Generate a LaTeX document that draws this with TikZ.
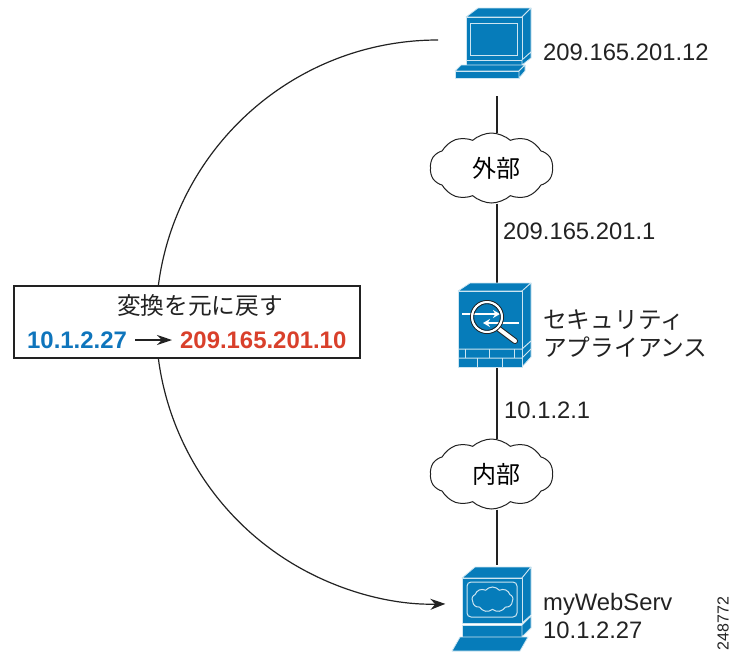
\documentclass[tikz,border=0pt]{standalone}
\usepackage{fontspec}
\setmainfont{Liberation Sans}
\newfontfamily\cjk{Noto Sans CJK JP}
\usetikzlibrary{arrows.meta,shapes.symbols}
\definecolor{ciscoblue}{HTML}{067CBA}
\definecolor{addrblue}{HTML}{0F75BC}
\definecolor{addrred}{HTML}{D9402B}
\definecolor{inkgray}{HTML}{222222}
\tikzset{
  wire/.style={draw=inkgray, line width=1.2pt},
  face/.style={fill=ciscoblue, draw=white!80!ciscoblue, line width=0.8pt, line join=round},
  hair/.style={draw=white!80!ciscoblue, line width=1pt},
  netcloud/.style={cloud, cloud puffs=10, cloud puff arc=85, aspect=1.8, draw=inkgray, fill=white,
    line width=1pt, inner sep=0pt, minimum width=123pt, minimum height=70pt, font=\cjk\fontsize{24}{24}\selectfont},
  label/.style={anchor=west, inner sep=0pt, text=inkgray, font=\fontsize{23.8}{24}\selectfont},
  jlabel/.style={anchor=west, inner sep=0pt, text=inkgray, font=\cjk\fontsize{23.7}{24}\selectfont},
  addr/.style={anchor=west, inner sep=0pt, font=\bfseries\fontsize{23.9}{24}\selectfont},
  spot/.style={inner sep=0pt, minimum width=76pt}
}
\begin{document}
\begin{tikzpicture}[x=1pt,y=-1pt]
  \useasboundingbox (0,0) rectangle (731,651);

  \coordinate (arctop) at (438,40);
  \draw [wire, -{Stealth[length=15pt,width=11pt]}] (arctop) arc [start angle=90, end angle=271.5, radius=282pt];

  \node (pchost) [spot, minimum height=88pt] at (497,52) {};
  \node (asa) [spot, minimum height=84pt] at (497,325) {};
  \node (webhost) [spot, minimum height=86pt] at (497,608) {};
  \node (outside) [netcloud] at (491.5,168) {\hspace*{9pt}外部};
  \node (inside) [netcloud] at (491.5,474) {\hspace*{9pt}内部};

  \draw [wire] (pchost) -- (pchost |- outside.north);
  \draw [wire] (pchost |- outside.south) -- (asa);
  \draw [wire] (asa) -- (asa |- inside.north);
  \draw [wire] (asa |- inside.south) -- (webhost);

  % pc
  \filldraw [face] (466,17) -- (478,8) -- (531,8) -- (522,17) -- cycle;
  \filldraw [face] (522,17) -- (531,8) -- (531,52) -- (522,60) -- cycle;
  \filldraw [face] (466,17) rectangle (522,60);
  \draw [hair] (470,23) rectangle (517,55);
  \filldraw [face] (466,60) rectangle (522,65);
  \filldraw [face] (522,60) -- (531,52) -- (531,58) -- (522,65) -- cycle;
  \filldraw [face] (455,71) -- (461,65) -- (525,65) -- (519,71) -- cycle;
  \filldraw [face] (455,71) rectangle (519,78);
  \filldraw [face] (519,71) -- (525,65) -- (525,71) -- (519,78) -- cycle;

  % security appliance
  \filldraw [face] (458,291) -- (470,283) -- (531,283) -- (522,291) -- cycle;
  \filldraw [face] (522,291) -- (531,283) -- (531,357) -- (522,367) -- cycle;
  \filldraw [face] (458,291) rectangle (522,367);
  \draw [hair] (458,349) -- (522,349) -- (531,341);
  \draw [hair] (458,358) -- (522,358) -- (531,349);
  \foreach \bx in {465,489,514} \draw [hair] (\bx,349) -- (\bx,358);
  \foreach \bx in {477,502} \draw [hair] (\bx,358) -- (\bx,367);
  \draw [inkgray, line width=6pt, line cap=round] (499,329) -- (515,341);
  \draw [white, line width=4pt, line cap=round] (499,329) -- (515,341);
  \draw [white, line width=2pt, -{Stealth[length=7pt,width=8pt]}] (462,314) -- (500,314);
  \draw [white, line width=2pt, -{Stealth[length=7pt,width=8pt]}] (519,323) -- (483,323);
  \draw [inkgray, line width=1pt] (487,317) circle [radius=16.5pt];
  \draw [white, line width=2.2pt] (487,317) circle [radius=14.9pt];
  \draw [inkgray, line width=0.8pt] (487,317) circle [radius=13.3pt];

  % server
  \filldraw [face] (462,578) -- (475,567) -- (531,567) -- (522,578) -- cycle;
  \filldraw [face] (522,578) -- (531,567) -- (531,615) -- (522,623) -- cycle;
  \filldraw [face] (462,578) rectangle (522,623);
  \draw [hair, rounded corners=4pt] (467,582) rectangle (517,617);
  \node (webcloud) [cloud, cloud puffs=9, cloud puff arc=100, aspect=1.7, hair, inner sep=0pt,
    minimum width=41pt, minimum height=25pt] at (492.5,599.5) {};
  \filldraw [face] (462,625) rectangle (522,637);
  \filldraw [face] (522,625) -- (531,616) -- (531,628) -- (522,637) -- cycle;
  \filldraw [face] (452,651) -- (460,637) -- (528,637) -- (520,651) -- cycle;

  \node (pcaddr) [label] at (543,52) {209.165.201.12};
  \node (outeraddr) [label] at (503,231) {209.165.201.1};
  \node (asaline) [jlabel] at (543,320) {セキュリティ};
  \node (asalinetwo) [jlabel] at (543,347) {アプライアンス};
  \node (inneraddr) [label] at (504,410) {10.1.2.1};
  \node (webname) [label] at (543,604) {myWebServ};
  \node (webaddr) [label] at (543,630) {10.1.2.27};
  \node (figid) [inkgray, inner sep=0pt, rotate=90, font=\fontsize{16}{16}\selectfont] at (723,623.5) {248772};

  \node (xlatebox) [draw=inkgray, fill=white, line width=1.2pt, minimum width=346pt, minimum height=72pt, inner sep=0pt] at (187,322) {};
  \node (xlatetitle) [inner sep=0pt, text=inkgray, font=\cjk\fontsize{23.7}{24}\selectfont] at (200,306) {変換を元に戻す};
  \node (fromaddr) [addr, text=addrblue] at (27,340) {10.1.2.27};
  \node (toaddr) [addr, text=addrred] at (180,340) {209.165.201.10};
  \draw [inkgray, line width=1.2pt, -{Stealth[length=15pt,width=10pt]}, shorten <=8pt, shorten >=8pt] (fromaddr) -- (toaddr);
\end{tikzpicture}
\end{document}
